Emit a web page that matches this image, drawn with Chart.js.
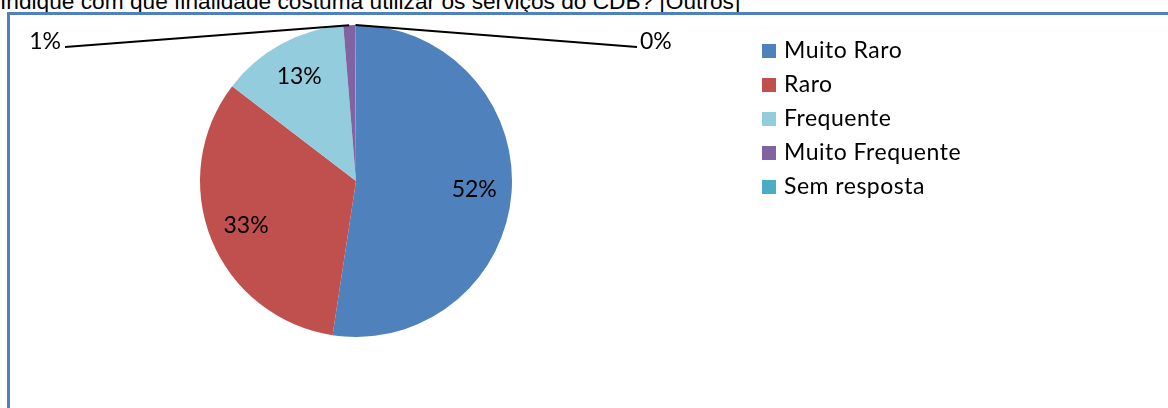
<!DOCTYPE html>
<html>
<head>
<meta charset="utf-8">
<script src="https://cdn.jsdelivr.net/npm/chart.js@4"></script>
<style>
  html, body { margin: 0; padding: 0; background: #fff; overflow: hidden; }
  #wrap { position: relative; width: 1168px; height: 408px; }
  #title { position: absolute; left: 0; top: -10px; line-height: 1; font-family: "Liberation Sans", Arial, sans-serif; font-size: 22.7px; color: #000; white-space: nowrap; }
  #frame { position: absolute; left: 7px; top: 12px; width: 1200px; height: 450px; border: 3px solid #4f81bd; }
  canvas { position: absolute; left: 0; top: 0; }
</style>
</head>
<body>
<div id="wrap">
  <div id="title">Indique com que finalidade costuma utilizar os serviços do CDB? [Outros]</div>
  <div id="frame"></div>
  <canvas id="pieChart" width="1168" height="408"></canvas>
</div>
<script>
const categories = ["Muito Raro", "Raro", "Frequente", "Muito Frequente", "Sem resposta"];
const shares = [52.4, 33.0, 13.3, 1.2, 0.1];
const sliceColors = ["#4f81bd", "#c0504d", "#93cddd", "#8064a2", "#4bacc6"];
const fontFamily = 'Lato, "Noto Sans", sans-serif';

// etiquetas de percentagem (dentro ou fora com linha)
const pieLabels = {
  id: "pieLabels",
  afterDatasetsDraw(chart) {
    const ctx = chart.ctx;
    const arcs = chart.getDatasetMeta(0).data;
    const total = shares.reduce((a, b) => a + b, 0);
    ctx.save();
    ctx.font = "23px " + fontFamily;
    ctx.fillStyle = "#000";
    ctx.textBaseline = "middle";
    arcs.forEach((arc, i) => {
      const txt = Math.round(shares[i] / total * 100) + "%";
      const mid = (arc.startAngle + arc.endAngle) / 2;
      if (shares[i] / total > 0.05) {
        const r = arc.outerRadius * 0.76;
        ctx.textAlign = "center";
        ctx.fillText(txt, arc.x + Math.cos(mid) * r, arc.y + Math.sin(mid) * r);
      } else {
        // ultima fatia vai para a direita, as outras para a esquerda
        const ex = arc.x + Math.cos(mid) * arc.outerRadius;
        const ey = arc.y + Math.sin(mid) * arc.outerRadius;
        const left = i < arcs.length - 1;
        const lx = left ? 65 : 637;
        const ly = 47;
        ctx.strokeStyle = "#000";
        ctx.lineWidth = 2;
        ctx.beginPath();
        ctx.moveTo(ex, ey);
        ctx.lineTo(lx, ly);
        ctx.stroke();
        ctx.textAlign = left ? "right" : "left";
        ctx.fillText(txt, left ? lx - 4 : lx + 3, ly - 5);
      }
    });
    ctx.restore();
  }
};

// legenda à direita
const sideLegend = {
  id: "sideLegend",
  afterDraw(chart) {
    const ctx = chart.ctx;
    ctx.save();
    ctx.font = "23px " + fontFamily;
    ctx.letterSpacing = "0.5px";
    ctx.textBaseline = "middle";
    ctx.textAlign = "left";
    categories.forEach((name, i) => {
      const y = 51 + i * 34;
      ctx.fillStyle = sliceColors[i];
      ctx.fillRect(762, y - 7, 14, 14);
      ctx.fillStyle = "#000";
      ctx.fillText(name, 784, y);
    });
    ctx.restore();
  }
};

new Chart(document.getElementById("pieChart"), {
  type: "pie",
  data: {
    labels: categories,
    datasets: [{
      data: shares,
      backgroundColor: sliceColors,
      borderWidth: 0
    }]
  },
  options: {
    responsive: false,
    animation: false,
    layout: { padding: { left: 200, top: 25, right: 656, bottom: 71 } },
    plugins: {
      legend: { display: false },
      tooltip: { enabled: false }
    }
  },
  plugins: [pieLabels, sideLegend]
});
</script>
</body>
</html>
